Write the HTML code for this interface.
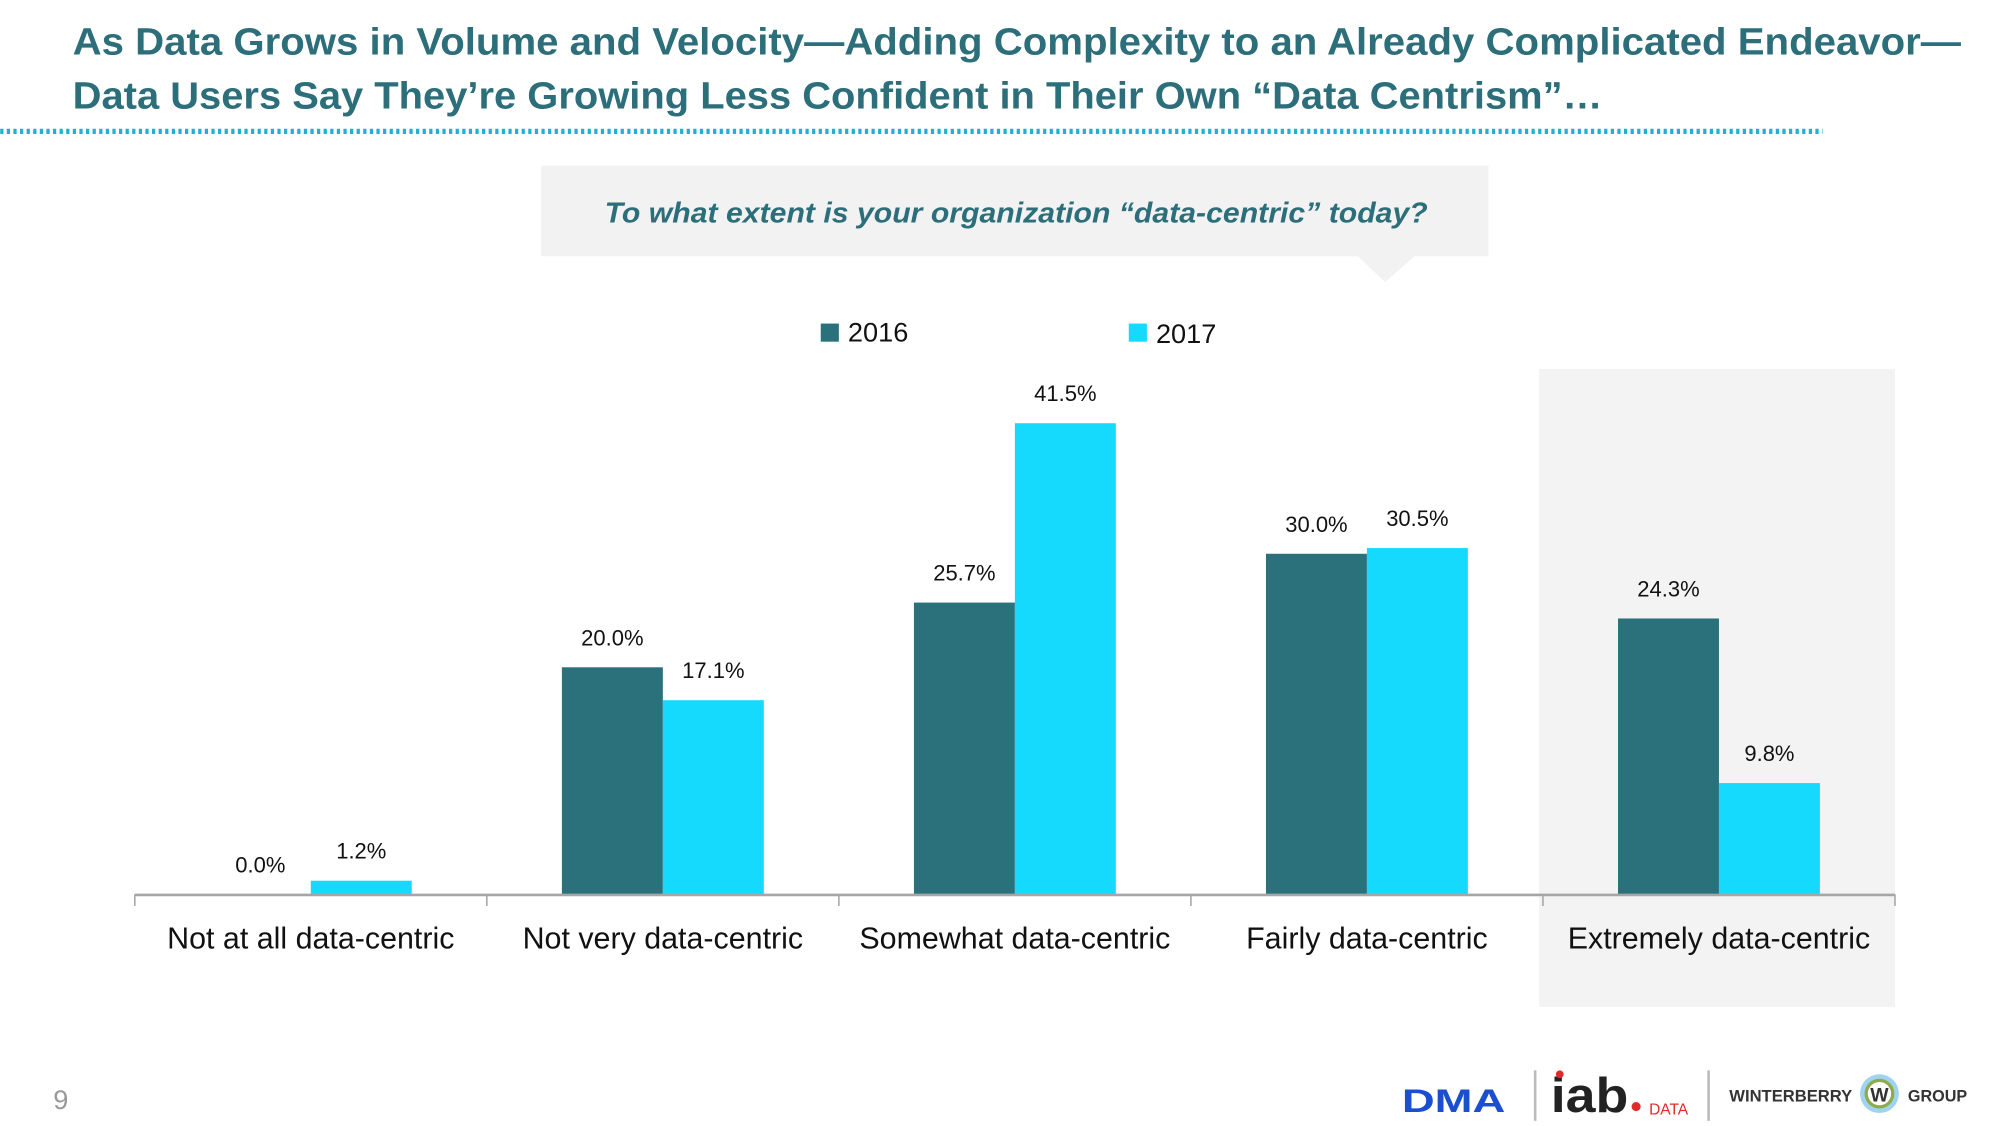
<!DOCTYPE html>
<html><head><meta charset="utf-8"><style>
html,body{margin:0;padding:0;background:#fff;}
svg{display:block;}
text{font-family:"Liberation Sans",sans-serif;}
</style></head><body>
<svg id="chart" width="2000" height="1126" viewBox="0 0 1545 870" xmlns="http://www.w3.org/2000/svg">
<g fill="#2c6e7a" font-weight="bold" font-size="29">
<text x="56" y="42" textLength="1459" lengthAdjust="spacingAndGlyphs">As Data Grows in Volume and Velocity—Adding Complexity to an Already Complicated Endeavor—</text>
<text x="56" y="84" textLength="1182" lengthAdjust="spacingAndGlyphs">Data Users Say They’re Growing Less Confident in Their Own “Data Centrism”…</text>
</g>
<line x1="0" y1="101.5" x2="1408" y2="101.5" stroke="#1ab3d2" stroke-width="4" stroke-dasharray="2.5 2.6"/>
<g>
<rect x="418" y="128" width="732" height="70" fill="#f2f2f2"/>
<polygon points="1048,197 1094,197 1070,218" fill="#f2f2f2"/>
<text x="785" y="172" text-anchor="middle" font-size="22" font-style="italic" font-weight="bold" fill="#2c6e7a" textLength="636" lengthAdjust="spacingAndGlyphs">To what extent is your organization “data-centric” today?</text>
</g>
<rect x="1189" y="285" width="275" height="493" fill="#f3f3f3"/>
<g font-size="21" fill="#111">
<g><rect x="634" y="250" width="14" height="14" fill="#2a717c"/><text x="655" y="264">2016</text></g>
<g><rect x="872" y="250" width="14" height="14" fill="#16d9fe"/><text x="893" y="265">2017</text></g>
</g>
<g id="bars"></g>
<g id="axis"></g>
<g>
<text x="41" y="857" font-size="21" fill="#999">9</text>
<text x="1083" y="859" font-size="25" font-weight="bold" fill="#1a4fd0" textLength="80" lengthAdjust="spacingAndGlyphs">DMA</text>
<line x1="1186" y1="827" x2="1186" y2="866" stroke="#bbb" stroke-width="2"/>
<text x="1198" y="859" font-size="38" font-weight="bold" fill="#222" textLength="60" lengthAdjust="spacingAndGlyphs">iab</text>
<circle cx="1264" cy="855" r="3.5" fill="#e02b2b"/><circle cx="1205" cy="830" r="3" fill="#e02b2b"/>
<text x="1274" y="861" font-size="12" fill="#e02b2b">DATA</text>
<line x1="1320" y1="827" x2="1320" y2="866" stroke="#bbb" stroke-width="2"/>
<text x="1336" y="851" font-size="12.5" font-weight="bold" fill="#333" textLength="95" lengthAdjust="spacingAndGlyphs">WINTERBERRY</text>
<circle cx="1452" cy="845" r="15" fill="#9fd4ee"/><circle cx="1452" cy="845" r="11.5" fill="#8faa4a"/><circle cx="1452" cy="845" r="9" fill="#fff"/>
<text x="1452" y="851" font-size="15" font-weight="bold" text-anchor="middle" fill="#333">W</text>
<text x="1474" y="851" font-size="12.5" font-weight="bold" fill="#333">GROUP</text>
</g>
</svg>
<script>
const categories = ["Not at all data-centric","Not very data-centric","Somewhat data-centric","Fairly data-centric","Extremely data-centric"];
const values2016 = [0.0, 20.0, 25.7, 30.0, 24.3];
const values2017 = [1.2, 17.1, 41.5, 30.5, 9.8];
const labels2016 = ["0.0%","20.0%","25.7%","30.0%","24.3%"];
const labels2017 = ["1.2%","17.1%","41.5%","30.5%","9.8%"];

const NS = "http://www.w3.org/2000/svg";
const x0 = 104, groupW = 272, baseY = 691, pxPerPct = 364/41.5, barW = 78;
const yScale = v => baseY - v * pxPerPct;
const groupCenter = i => x0 + groupW * (i + 0.5);
function mk(tag, attrs, parent){const e=document.createElementNS(NS,tag);for(const k in attrs)e.setAttribute(k,attrs[k]);parent.appendChild(e);return e;}
const bars = document.getElementById("bars");
const axis = document.getElementById("axis");
categories.forEach((c,i)=>{
  const cx = groupCenter(i);
  [[values2016,labels2016,"#2a717c",cx-barW,"2016"],[values2017,labels2017,"#16d9fe",cx,"2017"]].forEach(([vals,labs,col,x,yr])=>{
    const top = yScale(vals[i]);
    const r = mk("rect",{x:x,y:top,width:barW,height:baseY-top,fill:col},bars);
    
    
    const t = mk("text",{x:x+barW/2,y:top-17,"text-anchor":"middle","font-size":"17",fill:"#111"},bars);
    t.textContent = labs[i];
    
    
  });
  const lab = mk("text",{x:cx,y:733,"text-anchor":"middle","font-size":"23.5",fill:"#111"},axis);
  lab.textContent = c;
  
  
});
const bl = mk("line",{x1:x0,y1:baseY+0.5,x2:x0+groupW*categories.length,y2:baseY+0.5,stroke:"#a6a6a6","stroke-width":"2"},axis);


for(let i=0;i<=categories.length;i++){
  const tk = mk("line",{x1:x0+groupW*i,y1:baseY,x2:x0+groupW*i,y2:baseY+9,stroke:"#a6a6a6","stroke-width":"1.2"},axis);
  
  
}
</script>
</body></html>
